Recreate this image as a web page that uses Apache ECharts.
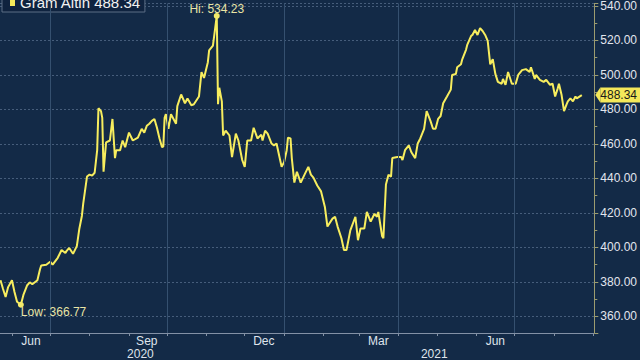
<!DOCTYPE html>
<html><head><meta charset="utf-8">
<script src="https://cdn.jsdelivr.net/npm/echarts@6/dist/echarts.min.js"></script>
<style>html,body{margin:0;padding:0;background:#132a47;}#c{width:640px;height:360px;}</style>
</head><body><div id="c"></div>
<script>
const seriesName = 'Gram Altin';
const dates = ['2020-05-23','2020-05-25','2020-05-27','2020-05-29','2020-06-01','2020-06-03','2020-06-05','2020-06-08','2020-06-10','2020-06-13','2020-06-15','2020-06-17','2020-06-21','2020-06-23','2020-06-24','2020-06-28','2020-07-01','2020-07-03','2020-07-07','2020-07-10','2020-07-13','2020-07-14','2020-07-16','2020-07-19','2020-07-22','2020-07-24','2020-07-26','2020-07-27','2020-07-30','2020-08-01','2020-08-03','2020-08-05','2020-08-07','2020-08-08','2020-08-10','2020-08-11','2020-08-12','2020-08-14','2020-08-17','2020-08-19','2020-08-21','2020-08-22','2020-08-25','2020-08-27','2020-08-29','2020-09-01','2020-09-04','2020-09-08','2020-09-11','2020-09-13','2020-09-15','2020-09-17','2020-09-19','2020-09-21','2020-09-23','2020-09-25','2020-09-27','2020-09-28','2020-09-29','2020-09-30','2020-10-02','2020-10-04','2020-10-06','2020-10-08','2020-10-09','2020-10-12','2020-10-15','2020-10-17','2020-10-20','2020-10-22','2020-10-26','2020-10-28','2020-10-30','2020-11-02','2020-11-03','2020-11-06','2020-11-09','2020-11-10','2020-11-11','2020-11-13','2020-11-14','2020-11-16','2020-11-19','2020-11-21','2020-11-24','2020-11-26','2020-11-29','2020-12-01','2020-12-03','2020-12-06','2020-12-08','2020-12-11','2020-12-14','2020-12-15','2020-12-17','2020-12-19','2020-12-22','2020-12-24','2020-12-26','2020-12-28','2020-12-30','2021-01-01','2021-01-03','2021-01-04','2021-01-06','2021-01-07','2021-01-09','2021-01-11','2021-01-14','2021-01-17','2021-01-20','2021-01-22','2021-01-24','2021-01-27','2021-01-30','2021-02-02','2021-02-04','2021-02-08','2021-02-10','2021-02-12','2021-02-15','2021-02-17','2021-02-19','2021-02-22','2021-02-26','2021-02-28','2021-03-02','2021-03-05','2021-03-07','2021-03-10','2021-03-13','2021-03-15','2021-03-16','2021-03-19','2021-03-20','2021-03-22','2021-03-24','2021-03-26','2021-03-27','2021-03-31','2021-04-03','2021-04-04','2021-04-06','2021-04-09','2021-04-11','2021-04-14','2021-04-16','2021-04-18','2021-04-21','2021-04-23','2021-04-26','2021-04-28','2021-04-30','2021-05-02','2021-05-04','2021-05-06','2021-05-09','2021-05-12','2021-05-13','2021-05-16','2021-05-17','2021-05-20','2021-05-21','2021-05-24','2021-05-25','2021-05-28','2021-05-29','2021-05-31','2021-06-02','2021-06-04','2021-06-06','2021-06-08','2021-06-10','2021-06-12','2021-06-14','2021-06-16','2021-06-18','2021-06-21','2021-06-22','2021-06-24','2021-06-26','2021-06-29','2021-07-02','2021-07-04','2021-07-07','2021-07-10','2021-07-13','2021-07-14','2021-07-17','2021-07-18','2021-07-21','2021-07-24','2021-07-26','2021-07-29','2021-07-31','2021-08-02','2021-08-04','2021-08-05','2021-08-07','2021-08-09','2021-08-11','2021-08-12','2021-08-14','2021-08-16','2021-08-18','2021-08-19','2021-08-23'];
const values = [381.0,375.9,371.3,377.0,381.0,374.2,368.5,366.77,372.5,378.1,379.8,378.7,381.0,387.2,389.5,390.0,391.7,390.0,394.0,398.5,396.8,398.0,399.7,396.3,400.8,411.0,418.4,425.2,441.1,442.2,441.6,443.3,456.4,480.7,479.0,475.1,443.9,460.9,462.0,474.5,451.8,456.4,456.4,462.0,458.1,466.6,462.0,463.7,468.8,466.6,470.5,471.7,473.4,474.5,469.4,463.2,458.1,458.6,475.1,477.3,468.8,477.3,474.5,471.7,481.9,488.7,483.6,486.4,482.4,483.0,487.5,501.7,498.3,507.4,514.2,517.0,534.23,483.0,492.6,484.7,464.9,467.7,464.9,452.4,466.0,462.0,450.7,446.7,462.0,462.0,469.4,463.2,465.4,462.0,467.7,466.0,460.3,459.2,460.3,453.5,446.7,449.6,456.4,463.7,463.2,451.8,437.6,443.9,437.6,442.2,446.7,442.2,440.5,435.9,432.5,423.5,412.1,416.7,417.8,412.1,405.3,398.5,398.5,409.9,417.8,404.2,411.0,411.0,420.6,415.0,419.5,417.8,420.6,406.5,405.3,436.5,442.2,441.0,451.8,452.4,452.4,450.7,456.4,459.2,455.2,451.8,460.3,463.2,468.8,479.0,473.4,468.8,468.8,474.5,476.2,483.6,487.5,491.5,500.0,500.6,504.5,506.2,509.1,514.7,517.6,522.7,523.2,526.1,523.2,527.2,525.5,523.2,519.8,506.2,509.1,500.6,496.0,494.9,497.7,494.3,501.7,494.9,494.9,500.0,502.8,503.4,501.7,504.5,497.7,500.0,497.2,496.0,497.2,494.3,494.9,487.5,492.1,494.9,488.7,479.0,483.0,484.7,486.4,484.7,487.5,486.4,488.34];
const monthStarts = ['2020-06-01','2020-07-01','2020-08-01','2020-09-01','2020-10-01','2020-11-01','2020-12-01','2021-01-01','2021-02-01','2021-03-01','2021-04-01','2021-05-01','2021-06-01','2021-07-01','2021-08-01','2021-09-01'];
const gridDates = ['2020-07-01','2020-10-01','2021-01-01','2021-04-01','2021-07-01'];
const monthLabelDates = ['2020-06-16','2020-09-15','2020-12-16','2021-03-16','2021-06-16'];
const monthLabels = ['Jun','Sep','Dec','Mar','Jun'];
const yearLabelDates = ['2020-09-10','2021-04-29'];
const yearLabels = ['2020','2021'];
const xStart = '2020-05-22';
const xEnd = '2021-09-01';
const yMin = 350.4, yMax = 541.5;

const DAY = 86400000;
function t(s){ const p = s.split('-').map(Number); return Date.UTC(p[0], p[1]-1, p[2]); }
const lastValue = values[values.length-1];
const monthMap = {}; monthLabelDates.forEach((d,i)=>{ monthMap[t(d)] = monthLabels[i]; });
const yearMap = {}; yearLabelDates.forEach((d,i)=>{ yearMap[t(d)] = yearLabels[i]; });

const chart = echarts.init(document.getElementById('c'), null, {renderer:'svg'});
const FONT = 'Liberation Sans, Arial, sans-serif';
const xMin = t(xStart) + 0.6*DAY, xMax = t(xEnd) + 0.8*DAY;
const option = {
  animation: false,
  backgroundColor: '#132a47',
  textStyle: {fontFamily: FONT},
  grid: {left: 0, right: 44, top: 0, bottom: 23, containLabel: false},
  legend: {
    show: true, left: 2, top: -11, orient: 'horizontal',
    padding: [6, 4, 2, 8], itemWidth: 5, itemHeight: 7, itemGap: 4,
    icon: 'rect', backgroundColor: '#0f233f', borderColor: '#5c6e86', borderWidth: 1,
    textStyle: {color: '#f2f2f2', fontSize: 15, fontFamily: FONT},
    formatter: n => n + ' ' + lastValue.toFixed(2),
    data: [{name: seriesName, itemStyle: {color: '#f4ea5a'}}]
  },
  xAxis: [{
    type: 'value', min: xMin, max: xMax, position: 'bottom', scale: true,
    axisLine: {show: true, onZero: false, lineStyle: {color: '#8391a6', width: 1}},
    axisTick: {show: true, customValues: monthStarts.map(t), length: 3, inside: false, lineStyle: {color: '#8391a6'}},
    axisLabel: {show: true, customValues: monthLabelDates.map(t), formatter: v => monthMap[v] || '', color: '#dfe4ec', fontSize: 12, margin: 2, fontFamily: FONT},
    splitLine: {show: false}
  }, {
    type: 'value', min: xMin, max: xMax, position: 'bottom', offset: 13, scale: true,
    axisLine: {show: false, onZero: false}, axisTick: {show: false},
    axisLabel: {show: true, customValues: yearLabelDates.map(t), formatter: v => yearMap[v] || '', color: '#dfe4ec', fontSize: 12, margin: 2, fontFamily: FONT},
    splitLine: {show: false}
  }],
  yAxis: {
    type: 'value', position: 'right', min: yMin, max: yMax, splitNumber: 9,
    axisLine: {show: true, lineStyle: {color: '#9c9c70', width: 1}},
    axisTick: {show: true, length: 4, lineStyle: {color: '#9c9c70'}},
    minorTick: {show: true, splitNumber: 2, length: 3, lineStyle: {color: '#9c9c70'}},
    axisLabel: {color: '#e2e6ee', fontSize: 12, margin: 6, fontFamily: FONT, showMinLabel: false, showMaxLabel: false, formatter: v => v.toFixed(2)},
    splitLine: {show: true, lineStyle: {color: '#465d7b', type: [2, 2], width: 1}}
  },
  series: [{
    type: 'line', name: 'grid', data: [], z: 1, silent: true,
    markLine: {silent: true, symbol: ['none','none'], label: {show: false},
      lineStyle: {color: '#35506f', type: 'solid', width: 1},
      data: gridDates.map(d => ({xAxis: t(d)}))}
  }, {
    type: 'line', name: seriesName, z: 3,
    data: dates.map((d,i) => [t(d), values[i]]),
    showSymbol: false, symbol: 'none',
    lineStyle: {color: '#f7ed5e', width: 2},
    itemStyle: {color: '#f7ed5e'},
    markPoint: {
      symbol: 'circle', symbolSize: 6, itemStyle: {color: '#f3ea6a'},
      data: [
        {type: 'max', name: 'Hi', label: {show: true, position: [3, -9.5], align: 'center', verticalAlign: 'top', lineHeight: 12, color: '#e9e5a6', fontSize: 12, fontFamily: FONT, formatter: p => 'Hi: ' + p.value.toFixed(2)}},
        {type: 'min', name: 'Low', label: {show: true, position: [3, 4], color: '#e9e5a6', fontSize: 12, fontFamily: FONT, formatter: p => 'Low: ' + p.value.toFixed(2)}}
      ]
    }
  }]
};
chart.setOption(option);
const py = chart.convertToPixel({yAxisIndex: 0}, lastValue);
const px = chart.convertToPixel({xAxisIndex: 0}, xMax);
chart.setOption({graphic: [
  {type: 'polygon', z: 100, shape: {points: [[px+1, py], [px+6, py-7.5], [px+6, py+7.5]]}, style: {fill: '#f4e85a'}},
  {type: 'rect', z: 100, shape: {x: px+6, y: py-7.5, width: 40, height: 15}, style: {fill: '#f4e85a'}},
  {type: 'text', z: 101, x: px+6, y: py, style: {text: lastValue.toFixed(2), fill: '#1a1a1a', font: '12px ' + FONT, textVerticalAlign: 'middle', verticalAlign: 'middle'}}
]});
</script>
</body></html>
